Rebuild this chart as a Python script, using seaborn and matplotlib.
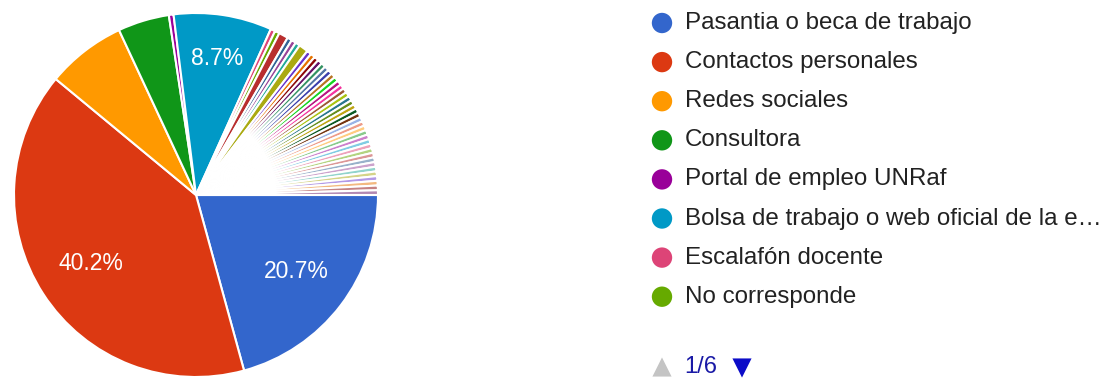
import matplotlib
matplotlib.use("Agg")
import matplotlib.pyplot as plt
import seaborn as sns

# Respuestas por vía de inserción laboral (cantidad de personas)
categorias_visibles = [
    "Pasantia o beca de trabajo",
    "Contactos personales",
    "Redes sociales",
    "Consultora",
    "Portal de empleo UNRaf",
    "Bolsa de trabajo o web oficial de la e\u2026",
    "Escalafón docente",
    "No corresponde",
]
respuestas_visibles = [50, 97, 17, 11, 1, 21, 1, 1]

# Respuestas abiertas restantes (una categoría por respuesta escrita)
respuestas_otras = [2, 1, 1, 1, 2, 1, 1, 1, 1, 1,
                    1, 1, 1, 1, 1, 1, 1, 1, 1, 1,
                    1, 1, 1, 1, 1, 1, 1, 1, 1, 1,
                    1, 1, 1, 1, 1, 1, 1, 1, 1, 1]

pagina_actual = 1
paginas_totales = 6

colores_base = [
    "#3366cc", "#dc3912", "#ff9900", "#109618", "#990099", "#0099c6",
    "#dd4477", "#66aa00", "#b82e2e", "#316395", "#994499", "#22aa99",
    "#aaaa11", "#6633cc", "#e67300", "#8b0707", "#651067", "#329262",
    "#5574a6", "#3b3eac", "#b77322", "#16d620", "#b91383", "#f4359e",
    "#9c5935", "#a9c413", "#2a778d", "#668d1c", "#bea413", "#0c5922",
    "#743411",
]

sns.set_theme(style="white")
plt.rcParams["font.family"] = ["Liberation Sans", "DejaVu Sans"]

valores = respuestas_visibles + respuestas_otras
n = len(valores)
paleta = list(sns.color_palette(colores_base))
# Las categorías que superan la paleta base usan tonos aclarados
extra = [tuple(0.5 * c + 0.5 for c in paleta[i % len(paleta)])
         for i in range(len(paleta), n)]
colores = (paleta + extra)[:n]

W, H = 1109, 381
fig = plt.figure(figsize=(W / 100, H / 100), dpi=100)
fig.patch.set_facecolor("white")

# Torta
cx, cy, r = 196, 195, 182
ax = fig.add_axes([(cx - r) / W, (H - cy - r) / H, 2 * r / W, 2 * r / H])


def etiqueta(pct):
    return f"{pct:.1f}%" if pct > 8 else ""


wedges, textos, autotextos = ax.pie(
    valores,
    colors=colores,
    startangle=0,
    counterclock=False,
    autopct=etiqueta,
    pctdistance=0.69,
    wedgeprops=dict(edgecolor="white", linewidth=1.5),
    textprops=dict(color="white", fontsize=16.5),
)
# etiqueta de la porción angosta un poco más afuera
t = autotextos[5]
x, y = t.get_position()
t.set_position((x * 1.1, y * 1.1))
ax.set_xlim(-1, 1)
ax.set_ylim(-1, 1)
ax.set_aspect("equal")
ax.axis("off")

# Leyenda paginada
lg = fig.add_axes([0, 0, 1, 1])
lg.set_xlim(0, W)
lg.set_ylim(H, 0)
lg.axis("off")
lg.patch.set_alpha(0)

y0, paso = 23, 39.1
for i, nombre in enumerate(categorias_visibles):
    yy = y0 + i * paso
    lg.scatter([662], [yy], s=215, color=colores[i], edgecolors="none")
    lg.text(685, yy, nombre, fontsize=17.4, color="#222222",
            va="center", ha="left")

yp = 367
lg.scatter([662], [yp], marker="^", s=190, color="#c4c4c4", edgecolors="none")
lg.text(684, yp, f"{pagina_actual}/{paginas_totales}", fontsize=17,
        color="#1a1aa6", va="center", ha="left")
lg.scatter([742], [yp + 1], marker="v", s=190, color="#0c0cc8",
           edgecolors="none")

fig.savefig("out.png", dpi=100, facecolor="white")
